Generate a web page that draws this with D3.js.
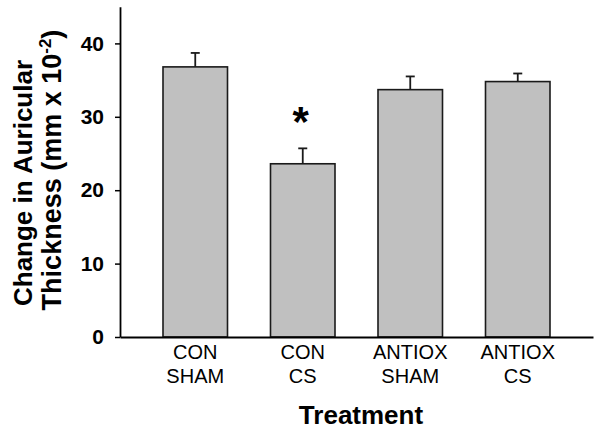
<!DOCTYPE html>
<html>
<head>
<meta charset="utf-8">
<script src="https://cdn.jsdelivr.net/npm/d3@7"></script>
<style>
  html, body { margin: 0; padding: 0; background: #fff; }
  svg { display: block; }
  text { font-family: Arial, "Liberation Sans", sans-serif; fill: #000; }
</style>
</head>
<body>
<svg id="chart" width="601" height="432"></svg>
<script>
const categories = ["CON SHAM", "CON CS", "ANTIOX SHAM", "ANTIOX CS"];
const categoryLines = [["CON", "SHAM"], ["CON", "CS"], ["ANTIOX", "SHAM"], ["ANTIOX", "CS"]];
const values = [36.8, 23.6, 33.7, 34.8];
const errors = [1.9, 2.1, 1.8, 1.1];
const significant = [false, true, false, false];
const yTicks = [0, 10, 20, 30, 40];
const yTitleLines = ["Change in Auricular", "Thickness (mm x 10"];
const xTitle = "Treatment";

const svg = d3.select("#chart");

const x = d3.scaleBand().domain(categories).range([120, 593])
  .paddingInner(0.4).paddingOuter(0.4);
const y = d3.scaleLinear().domain([0, 45]).range([337, 6.7]);

// bars
svg.append("g").selectAll("rect").data(categories).join("rect")
  .attr("x", d => x(d))
  .attr("y", (d, i) => y(values[i]))
  .attr("width", x.bandwidth())
  .attr("height", (d, i) => y(0) - y(values[i]))
  .attr("fill", "#c0c0c0")
  .attr("stroke", "#1a1a1a")
  .attr("stroke-width", 1.6);

// error bars
const eg = svg.append("g").attr("stroke", "#1a1a1a").attr("stroke-width", 1.8);
categories.forEach((c, i) => {
  const cx = x(c) + x.bandwidth() / 2;
  eg.append("line").attr("x1", cx).attr("x2", cx)
    .attr("y1", y(values[i])).attr("y2", y(values[i] + errors[i]));
  eg.append("line").attr("x1", cx - 4.5).attr("x2", cx + 4.5)
    .attr("y1", y(values[i] + errors[i])).attr("y2", y(values[i] + errors[i]));
});

// significance asterisk
categories.forEach((c, i) => {
  if (!significant[i]) return;
  svg.append("text")
    .attr("x", x(c) + x.bandwidth() / 2 - 2)
    .attr("y", y(values[i] + errors[i]) - 12)
    .attr("text-anchor", "middle")
    .style("font-size", "42px")
    .style("font-weight", "bold")
    .text("*");
});

// y axis
const yAxis = svg.append("g").attr("transform", "translate(120,0)")
  .call(d3.axisLeft(y).tickValues(yTicks).tickSize(5).tickSizeOuter(0).tickPadding(11).tickFormat(d3.format("d")));
yAxis.select(".domain").attr("stroke", "#000").attr("stroke-width", 1.8);
yAxis.selectAll(".tick line").attr("stroke", "#000").attr("stroke-width", 1.5);
yAxis.selectAll(".tick text")
  .style("font-family", "Arial, 'Liberation Sans', sans-serif")
  .style("font-size", "21px").style("font-weight", "bold").attr("fill", "#000");

// x axis
const xAxis = svg.append("g").attr("transform", "translate(0,337)")
  .call(d3.axisBottom(x).tickSize(0).tickSizeOuter(0).tickFormat(""));
xAxis.select(".domain").attr("stroke", "#000").attr("stroke-width", 1.8);

// x category labels (two lines)
categories.forEach((c, i) => {
  const cx = x(c) + x.bandwidth() / 2;
  const t = svg.append("text")
    .attr("text-anchor", "middle")
    .style("font-size", "20px");
  categoryLines[i].forEach((ln, j) => {
    t.append("tspan").attr("x", cx).attr("y", 359 + j * 24).text(ln);
  });
});

// x title
svg.append("text")
  .attr("x", 361).attr("y", 423.5)
  .attr("text-anchor", "middle")
  .style("font-size", "26px").style("font-weight", "bold")
  .text(xTitle);

// y title (rotated, two lines)
svg.append("text")
  .attr("transform", "translate(31.5,183) rotate(-90)")
  .attr("text-anchor", "middle")
  .style("font-size", "26px").style("font-weight", "bold")
  .text(yTitleLines[0]);
const t2 = svg.append("text")
  .attr("transform", "translate(60.5,170) rotate(-90)")
  .attr("text-anchor", "middle")
  .style("font-size", "27px").style("font-weight", "bold");
t2.append("tspan").text(yTitleLines[1]);
t2.append("tspan").attr("dy", -10).style("font-size", "17px").text("-2");
t2.append("tspan").attr("dy", 10).text(")");
</script>
</body>
</html>
